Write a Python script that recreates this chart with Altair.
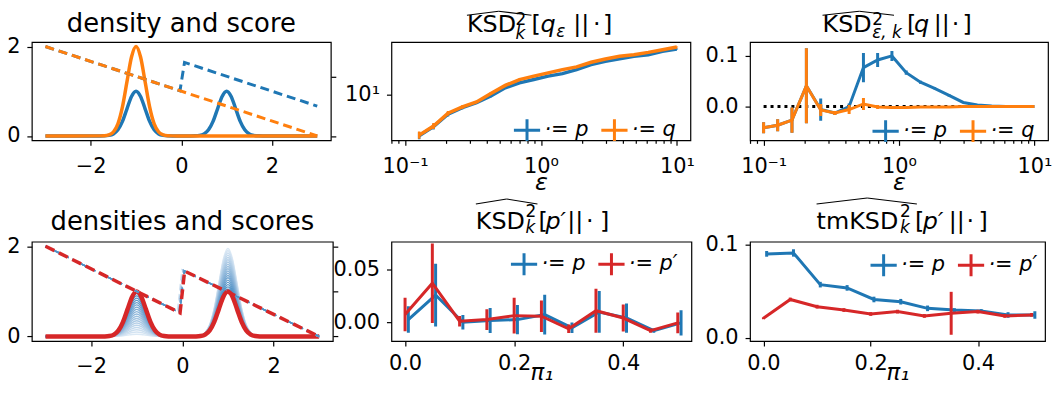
import altair as alt
import pandas as pd

FONT = "DejaVu Sans"
BLUE = "#1f77b4"
ORANGE = "#ff7f0e"
RED = "#d62728"

# ---------------- panels 1 and 4: densities (solid) and scores (dashed) ----------------
x_grid = [-3.0, -1.8, -1.7, -1.6, -1.5, -1.4, -1.3, -1.2, -1.1, -1.0, -0.9, -0.8, -0.7,
          -0.6, -0.5, -0.4, -0.3, -0.2, 0.0, 0.2, 0.3, 0.4, 0.5, 0.6, 0.7, 0.8, 0.9,
          1.0, 1.1, 1.2, 1.3, 1.4, 1.5, 1.6, 1.7, 1.8, 3.0]
bump = [0.0003, 0.0022, 0.0111, 0.0439, 0.1353, 0.3247, 0.6065, 0.8825, 1.0,
        0.8825, 0.6065, 0.3247, 0.1353, 0.0439, 0.0111, 0.0022, 0.0003]
left_bump = [0.0] + bump + [0.0] * 19
right_bump = [0.0] * 19 + bump + [0.0]

p_weights = [1.0, 1.0]
q_weights = [2.0, 0.0]
pprime_weights = [1.0, 1.0]

score_x_p = [-3.0, -0.03, 0.07, 3.0]
score_p = [50.0, -24.3, 23.3, -50.0]
score_x_q = [-3.0, 3.0]
score_q = [50.0, -100.0]
score_x_pp = [-3.0, -0.05, 0.05, 3.0]
score_pp = [50.0, -23.8, 22.5, -50.0]

fam_pi = [0.025, 0.05, 0.075, 0.1, 0.125, 0.15, 0.175, 0.2, 0.225, 0.25, 0.275, 0.3,
          0.325, 0.35, 0.375, 0.4, 0.425, 0.45, 0.475]
fam_left_w = [0.05, 0.1, 0.15, 0.2, 0.25, 0.3, 0.35, 0.4, 0.45, 0.5, 0.55, 0.6, 0.65,
              0.7, 0.75, 0.8, 0.85, 0.9, 0.95]
fam_right_w = [1.95, 1.9, 1.85, 1.8, 1.75, 1.7, 1.65, 1.6, 1.55, 1.5, 1.45, 1.4, 1.35,
               1.3, 1.25, 1.2, 1.15, 1.1, 1.05]

fam_score_pi = [0.05, 0.1, 0.15, 0.2, 0.25, 0.3, 0.35, 0.4, 0.45]
jump_left_x = [-0.109, -0.094, -0.085, -0.078, -0.072, -0.067, -0.062, -0.058, -0.054]
jump_left_s = [-22.3, -22.7, -22.9, -23.1, -23.2, -23.3, -23.5, -23.6, -23.7]
jump_right_x = [-0.009, 0.006, 0.015, 0.022, 0.028, 0.033, 0.038, 0.042, 0.046]
jump_right_s = [24.0, 23.6, 23.4, 23.2, 23.1, 22.9, 22.8, 22.7, 22.6]
score_ends_x = [-3.0, 3.0]
score_ends_s = [50.0, -50.0]

# ---------------- panels 2 and 3: epsilon sweeps ----------------
eps = [0.1, 0.127, 0.162, 0.207, 0.264, 0.336, 0.428, 0.546, 0.695, 0.886, 1.13, 1.44,
       1.83, 2.34, 2.98, 3.79, 4.83, 6.16, 7.85, 10.0]
eps_minor = [0.08, 0.09, 0.2, 0.3, 0.4, 0.5, 0.6, 0.7, 0.8, 0.9, 2, 3, 4, 5, 6, 7, 8, 9]

eps_q = [0.127, 0.162, 0.207, 0.264, 0.336, 0.428, 0.546, 0.695, 0.886, 1.13, 1.44,
         1.83, 2.34, 2.98, 3.79, 4.83, 6.16, 7.85, 10.0]
ksd_qeps_p = [9.278, 9.434, 9.650, 9.767, 9.856, 9.976, 10.127, 10.219, 10.281, 10.345,
              10.393, 10.469, 10.564, 10.630, 10.680, 10.726, 10.758, 10.824, 10.869]
err_qeps_p = [0.06, 0.05, 0.04, 0.03, 0.02, 0.02, 0.02, 0.02, 0.02, 0.01, 0.01, 0.01,
              0.01, 0.01, 0.01, 0.01, 0.01, 0.01, 0.01]
ksd_qeps_q = [9.289, 9.445, 9.667, 9.779, 9.868, 10.024, 10.171, 10.281, 10.345, 10.406,
              10.469, 10.521, 10.610, 10.675, 10.726, 10.758, 10.804, 10.857, 10.909]
err_qeps_q = [0.06, 0.05, 0.04, 0.03, 0.02, 0.02, 0.02, 0.02, 0.02, 0.01, 0.01, 0.01,
              0.01, 0.01, 0.01, 0.01, 0.01, 0.01, 0.01]

ksd_epsk_p = [-0.042, -0.037, -0.027, 0.041, -0.006, -0.013, 0.000, 0.077, 0.092, 0.100,
              0.067, 0.048, 0.036, 0.022, 0.008, 0.003, 0.001, 0.000, 0.000, 0.000]
err_epsk_p = [0.011, 0.012, 0.025, 0.074, 0.022, 0.004, 0.006, 0.029, 0.014, 0.010,
              0.004, 0.003, 0.002, 0.002, 0.001, 0.001, 0.000, 0.000, 0.000, 0.000]
ksd_epsk_q = [-0.042, -0.037, -0.027, 0.041, -0.007, -0.013, -0.006, 0.005, -0.001, -0.002,
              -0.002, -0.001, -0.001, -0.001, 0.000, 0.000, 0.000, 0.000, 0.000, 0.000]
err_epsk_q = [0.011, 0.012, 0.025, 0.074, 0.012, 0.004, 0.009, 0.012, 0.004, 0.002,
              0.001, 0.001, 0.001, 0.000, 0.000, 0.000, 0.000, 0.000, 0.000, 0.000]
zero_x = [0.1, 10.0]
zero_y = [0.0, 0.0]

# ---------------- panels 5 and 6: pi_1 sweeps ----------------
pi1_pp = [0.0, 0.05, 0.1, 0.15, 0.2, 0.25, 0.3, 0.35, 0.4, 0.45, 0.5]
pi1_p = [0.006, 0.056, 0.106, 0.156, 0.206, 0.256, 0.306, 0.356, 0.406, 0.456, 0.506]

ksd_pp_p = [0.0025, 0.026, 0.0, 0.0016, 0.0025, 0.0073, -0.0054, 0.0098, 0.004, -0.008, -0.0006]
err_pp_p = [0.0127, 0.030, 0.007, 0.012, 0.014, 0.019, 0.005, 0.020, 0.014, 0.002, 0.012]
ksd_pp_pp = [0.0073, 0.0373, 0.001, 0.0025, 0.0063, 0.0057, -0.0063, 0.011, 0.004, -0.008, -0.0006]
err_pp_pp = [0.016, 0.038, 0.005, 0.010, 0.017, 0.015, 0.004, 0.021, 0.013, 0.002, 0.010]

tm_p = [0.0901, 0.0912, 0.0572, 0.0537, 0.0413, 0.0389, 0.0318, 0.030, 0.029, 0.0247, 0.0247]
err_tm_p = [0.003, 0.004, 0.003, 0.003, 0.003, 0.003, 0.003, 0.002, 0.002, 0.003, 0.004]
tm_pp = [0.0212, 0.0413, 0.0336, 0.030, 0.0258, 0.0283, 0.0237, 0.0265, 0.0283, 0.0237, 0.0247]
err_tm_pp = [0.001, 0.002, 0.002, 0.002, 0.002, 0.002, 0.002, 0.023, 0.002, 0.002, 0.002]

LP, LQ, LPP = "·= p", "·= q", "·= p′"

# ---------------- tables ----------------
df_dens = pd.DataFrame({
    "x": x_grid,
    "p": [p_weights[0] * a + p_weights[1] * b for a, b in zip(left_bump, right_bump)],
    "q": [q_weights[0] * a + q_weights[1] * b for a, b in zip(left_bump, right_bump)],
    "pp": [pprime_weights[0] * a + pprime_weights[1] * b for a, b in zip(left_bump, right_bump)],
})
df_fam = pd.DataFrame([
    {"x": x, "pi": pi, "d": wl * a + wr * b}
    for pi, wl, wr in zip(fam_pi, fam_left_w, fam_right_w)
    for x, a, b in zip(x_grid, left_bump, right_bump)
])
df_fam_score = pd.DataFrame([
    {"x": xx, "pi": pi, "s": ss}
    for pi, lx, ls, rx, rs in zip(fam_score_pi, jump_left_x, jump_left_s, jump_right_x, jump_right_s)
    for xx, ss in zip([score_ends_x[0], lx, rx, score_ends_x[1]],
                      [score_ends_s[0], ls, rs, score_ends_s[1]])
])
df_sp = pd.DataFrame({"x": score_x_p, "s": score_p})
df_sq = pd.DataFrame({"x": score_x_q, "s": score_q})
df_spp = pd.DataFrame({"x": score_x_pp, "s": score_pp})

df2 = pd.DataFrame({"xv": eps_q * 2, "val": ksd_qeps_p + ksd_qeps_q,
                    "err": err_qeps_p + err_qeps_q,
                    "series": [LP] * len(eps_q) + [LQ] * len(eps_q)})
df3 = pd.DataFrame({"xv": eps * 2, "val": ksd_epsk_p + ksd_epsk_q,
                    "err": err_epsk_p + err_epsk_q,
                    "series": [LP] * len(eps) + [LQ] * len(eps)})
df_zero = pd.DataFrame({"xv": zero_x, "val": zero_y})
df5 = pd.DataFrame({"xv": pi1_p + pi1_pp, "val": ksd_pp_p + ksd_pp_pp,
                    "err": err_pp_p + err_pp_pp,
                    "series": [LP] * len(pi1_p) + [LPP] * len(pi1_pp)})
df6 = pd.DataFrame({"xv": pi1_p + pi1_pp, "val": tm_p + tm_pp,
                    "err": err_tm_p + err_tm_pp,
                    "series": [LP] * len(pi1_p) + [LPP] * len(pi1_pp)})
df_minor = pd.DataFrame({"m": eps_minor})

ONE = alt.InlineData(values=[{"o": 0}])
H1 = 99
H2 = 100


# ---------------- helpers ----------------
def txt(s, x, y, size, style="normal", align="left"):
    return alt.Chart(ONE).mark_text(font=FONT, fontSize=size, fontStyle=style, align=align,
                                    baseline="alphabetic", color="black").encode(
        text=alt.value(s), x=alt.value(x), y=alt.value(y))


def hat(x1, xm, x2, ytop, ybot):
    kw = dict(color="black", strokeWidth=1.1)
    a = alt.Chart(ONE).mark_rule(**kw).encode(x=alt.value(x1), y=alt.value(ybot),
                                              x2=alt.value(xm), y2=alt.value(ytop))
    b = alt.Chart(ONE).mark_rule(**kw).encode(x=alt.value(xm), y=alt.value(ytop),
                                              x2=alt.value(x2), y2=alt.value(ybot))
    return [a, b]


PLUS = "M-1.2,0H1.2M0,-1V1"


def legend(x, y):
    return alt.Legend(title=None, orient="none", legendX=x, legendY=y, direction="horizontal",
                      symbolType=PLUS, symbolSize=484, symbolStrokeWidth=3,
                      symbolFillColor="transparent", labelFont=FONT, labelFontSize=21,
                      labelFontStyle="italic", labelColor="black", labelOffset=5,
                      columnPadding=6, padding=0)


def err_series(df, series, colorenc, xsc, xax, ysc, yax, lw=3, ew=3):
    base = alt.Chart(df).transform_filter(alt.datum.series == series)
    line = base.mark_line(strokeWidth=lw, clip=True).encode(
        x=alt.X("xv:Q", scale=xsc, axis=xax),
        y=alt.Y("val:Q", scale=ysc, axis=yax), color=colorenc)
    bars = base.transform_calculate(lo="datum.val - datum.err", hi="datum.val + datum.err").mark_rule(
        strokeWidth=ew, clip=True).encode(
        x=alt.X("xv:Q", scale=xsc, axis=xax),
        y=alt.Y("lo:Q", scale=ysc, axis=yax), y2="hi:Q", color=colorenc)
    return [line, bars]


def minor_layer(xsc):
    return alt.Chart(df_minor).mark_point(opacity=0).encode(
        x=alt.X("m:Q", scale=xsc, axis=alt.Axis(orient="bottom", values=eps_minor, labels=False,
                                                 tickSize=3, domain=False, title=None, grid=False)))


# ---------------- panel 1 ----------------
xs_dens = alt.Scale(domain=[-3.3, 3.3], nice=False, zero=False)
ys_dens = alt.Scale(domain=[-0.1, 2.1], nice=False, zero=False)
xax_dens = alt.Axis(values=[-2, 0, 2], title=None)
yax_dens = alt.Axis(values=[0, 2], title=None, format="d")


def dens(df, field, color, width):
    return alt.Chart(df).mark_line(color=color, strokeWidth=width, interpolate="monotone",
                                   clip=True).encode(
        x=alt.X("x:Q", scale=xs_dens, axis=xax_dens),
        y=alt.Y(f"{field}:Q", scale=ys_dens, axis=yax_dens))


def score(df, color, width, dash, ysc, yax):
    return alt.Chart(df).mark_line(color=color, strokeWidth=width, strokeDash=dash,
                                   clip=True).encode(
        x=alt.X("x:Q", scale=xs_dens, axis=xax_dens),
        y=alt.Y("s:Q", scale=ysc, axis=yax))


ys_s1 = alt.Scale(domain=[-107.5, 57.5], nice=False, zero=False)
yax_s1 = alt.Axis(orient="right", values=[-100, 0], labels=False, title=None, domain=False)

W1 = 301
p1 = alt.layer(
    alt.layer(dens(df_dens, "p", BLUE, 3.5), dens(df_dens, "q", ORANGE, 3.5)),
    alt.layer(score(df_sp, BLUE, 3, [9, 5], ys_s1, yax_s1),
              score(df_sq, ORANGE, 3, [9, 5], ys_s1, yax_s1)),
    txt("density and score", W1 / 2, -10, 26, align="center"),
).resolve_scale(y="independent").properties(width=W1, height=H1)

# ---------------- panel 2 ----------------
xs_eps = alt.Scale(type="log", domain=[0.0794, 12.59], nice=False)
xax_eps = alt.Axis(values=[0.1, 1, 10],
                   labelExpr="datum.value < 0.5 ? '10⁻¹' : (datum.value < 5 ? '10⁰' : '10¹')",
                   title="ε", titleFontStyle="italic", titleY=49, titleBaseline="alphabetic")
ys2 = alt.Scale(type="log", domain=[9.2, 11.01], nice=False)
yax2 = alt.Axis(values=[10], labelExpr="'10¹'", title=None)
col2 = alt.Color("series:N", scale=alt.Scale(domain=[LP, LQ], range=[BLUE, ORANGE]),
                 legend=legend(124, 76))

title2 = hat(76, 108, 141, -31, -27) + [
    txt("KSD", 76, -10, 24), txt("2", 125, -17, 17), txt("k", 125, -3, 17, "italic"),
    txt("[", 141, -10, 24), txt("q", 150, -10, 24, "italic"), txt("ε", 166, -5, 17, "italic"),
    txt("||", 183, -10, 24), txt("·", 203, -10, 24), txt("]", 213, -10, 24)]

main2 = alt.layer(
    *err_series(df2, LP, col2, xs_eps, xax_eps, ys2, yax2, lw=3.5, ew=2.5),
    *err_series(df2, LQ, col2, xs_eps, xax_eps, ys2, yax2, lw=3.5, ew=2.5),
    *title2)
p2 = alt.layer(main2, minor_layer(xs_eps)).resolve_axis(x="independent").properties(width=301, height=H1)

# ---------------- panel 3 ----------------
ys3 = alt.Scale(domain=[-0.067, 0.1275], nice=False, zero=False)
yax3 = alt.Axis(values=[0.0, 0.1], format=".1f", title=None)
col3 = alt.Color("series:N", scale=alt.Scale(domain=[LP, LQ], range=[BLUE, ORANGE]),
                 legend=legend(124, 77))
zero3 = alt.Chart(df_zero).mark_line(color="black", strokeWidth=3, strokeDash=[3, 4]).encode(
    x=alt.X("xv:Q", scale=xs_eps, axis=xax_eps), y=alt.Y("val:Q", scale=ys3, axis=yax3))

title3 = hat(73, 110, 145, -31, -27) + [
    txt("KSD", 73, -10, 24), txt("2", 123, -17, 17), txt("ε, k", 123, -4, 17, "italic"),
    txt("[", 158, -10, 24), txt("q", 165, -10, 24, "italic"),
    txt("||", 185, -10, 24), txt("·", 203, -10, 24), txt("]", 214, -10, 24)]

main3 = alt.layer(
    zero3,
    *err_series(df3, LP, col3, xs_eps, xax_eps, ys3, yax3),
    *err_series(df3, LQ, col3, xs_eps, xax_eps, ys3, yax3),
    *title3)
p3 = alt.layer(main3, minor_layer(xs_eps)).resolve_axis(x="independent").properties(width=300, height=H1)

# ---------------- panel 4 ----------------
ys_s4 = alt.Scale(domain=[-55, 55], nice=False, zero=False)
yax_s4 = alt.Axis(orient="right", values=[-50, 0, 50], labels=False, title=None, domain=False)
fam_color = alt.Color("pi:Q", scale=alt.Scale(domain=[0.0, 0.5], range=["#e3eef8", "#3787c0"]),
                      legend=None)

fam_lines = alt.Chart(df_fam).mark_line(strokeWidth=1.4, interpolate="monotone", clip=True).encode(
    x=alt.X("x:Q", scale=xs_dens, axis=xax_dens),
    y=alt.Y("d:Q", scale=ys_dens, axis=yax_dens),
    color=fam_color, detail="pi:N")
fam_scores = alt.Chart(df_fam_score).mark_line(strokeWidth=1.5, strokeDash=[6, 4], clip=True).encode(
    x=alt.X("x:Q", scale=xs_dens, axis=xax_dens),
    y=alt.Y("s:Q", scale=ys_s4, axis=yax_s4),
    color=fam_color, detail="pi:N")

W4 = 303
p4 = alt.layer(
    alt.layer(fam_lines, dens(df_dens, "pp", RED, 4.5)),
    alt.layer(fam_scores, score(df_spp, RED, 3.5, [10, 5], ys_s4, yax_s4)),
    txt("densities and scores", W4 / 2, -12, 26, align="center"),
).resolve_scale(y="independent").properties(width=W4, height=H2)

# ---------------- panel 5 ----------------
xs_pi = alt.Scale(domain=[-0.025, 0.525], nice=False, zero=False)
xax_pi = alt.Axis(values=[0.0, 0.2, 0.4], format=".1f", title="π₁", titleFontStyle="italic",
                  titleY=39, titleFontSize=23, titleBaseline="alphabetic", labelPadding=7)
ys5 = alt.Scale(domain=[-0.018, 0.077], nice=False, zero=False)
yax5 = alt.Axis(values=[0.0, 0.05], format=".2f", title=None)
col5 = alt.Color("series:N", scale=alt.Scale(domain=[LP, LPP], range=[BLUE, RED]),
                 legend=legend(121, 10))

title5 = hat(85, 116, 147, -43, -38) + [
    txt("KSD", 85, -13, 24), txt("2", 135, -25, 17), txt("k", 135, -9, 17, "italic"),
    txt("[", 148, -13, 24), txt("p′", 155, -13, 24, "italic"),
    txt("||", 177, -13, 24), txt("·", 196, -13, 24), txt("]", 210, -13, 24)]

p5 = alt.layer(
    *err_series(df5, LP, col5, xs_pi, xax_pi, ys5, yax5),
    *err_series(df5, LPP, col5, xs_pi, xax_pi, ys5, yax5),
    *title5).properties(width=302, height=H2)

# ---------------- panel 6 ----------------
ys6 = alt.Scale(domain=[-0.0032, 0.1032], nice=False, zero=False)
yax6 = alt.Axis(values=[0.0, 0.1], format=".1f", title=None)
col6 = alt.Color("series:N", scale=alt.Scale(domain=[LP, LPP], range=[BLUE, RED]),
                 legend=legend(122, 11))

title6 = hat(67, 118, 168, -44, -38) + [
    txt("tmKSD", 67, -13, 24), txt("2", 151, -25, 17), txt("k", 151, -9, 17, "italic"),
    txt("[", 166, -13, 24), txt("p′", 174, -13, 24, "italic"),
    txt("||", 200, -13, 24), txt("·", 218, -13, 24), txt("]", 230, -13, 24)]

p6 = alt.layer(
    *err_series(df6, LP, col6, xs_pi, xax_pi, ys6, yax6),
    *err_series(df6, LPP, col6, xs_pi, xax_pi, ys6, yax6),
    *title6).properties(width=297, height=H2)

# ---------------- assemble ----------------
chart = alt.concat(
    p1, p2, p3, p4, p5, p6, columns=3, spacing={"row": 102, "column": 59}, bounds="flush",
    align="none"
).resolve_scale(
    x="independent", y="independent", color="independent"
).resolve_legend(color="independent").properties(
    padding={"left": -2, "top": 0, "right": -1, "bottom": -3}, background="white"
).configure_view(
    stroke="black", strokeWidth=1.2
).configure_axis(
    domain=False, grid=False, tickColor="black", tickWidth=1.2, tickSize=5,
    labelColor="black", labelFont=FONT, labelFontSize=21, labelFlush=False, labelOverlap=False,
    titleColor="black", titleFont=FONT, titleFontSize=24, titleFontWeight="normal"
).configure_axisX(labelPadding=10).configure_axisY(labelPadding=7)

chart.save("out.html", embed_options={"renderer": "svg", "actions": False})
